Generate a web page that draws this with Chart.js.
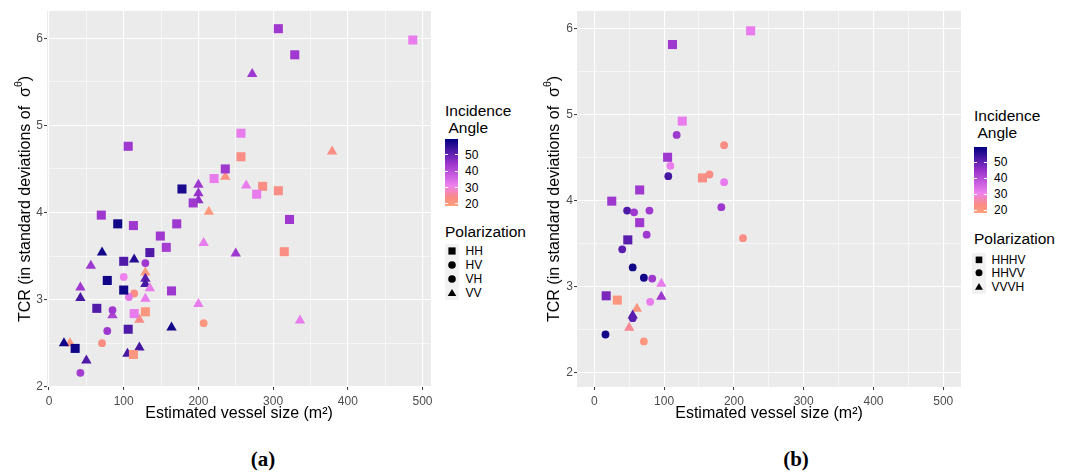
<!DOCTYPE html>
<html><head><meta charset="utf-8">
<script src="https://cdn.jsdelivr.net/npm/chart.js@4.4.1/dist/chart.umd.min.js"></script>
<style>
html,body{margin:0;padding:0;background:#fff;}
body{width:1069px;height:472px;overflow:hidden;position:relative;font-family:"Liberation Sans",Arial,sans-serif;color:#000;}
canvas{position:absolute;top:0;}
.ytitle{position:absolute;white-space:nowrap;font-size:16px;transform:translate(-50%,-50%) rotate(-90deg);}
.ytitle sup{font-size:10.5px;vertical-align:8px;line-height:0;}
.ltitle{position:absolute;font-size:15.5px;line-height:17px;white-space:pre;}
.lab{position:absolute;font-size:12px;line-height:14px;transform:translateY(-50%);white-space:nowrap;}
.bar{position:absolute;}
.tk{position:absolute;height:1px;background:#fff;}
.key{position:absolute;background:#F2F2F2;}
.key svg{position:absolute;left:0;top:0;}
.plabel{position:absolute;font-family:"Liberation Serif","DejaVu Serif",serif;font-weight:bold;font-size:21px;transform:translate(-50%,-50%);}
</style>
</head><body>
<canvas id="ca" width="440" height="430" style="left:0px"></canvas>
<canvas id="cb" width="440" height="430" style="left:530px"></canvas>
<div id="overlay"></div>
<script>
// ---------- tick values ----------
const X_TICKS = [0,50,100,150,200,250,300,350,400,450,500];
const Y_TICKS = [2,2.5,3,3.5,4,4.5,5,5.5,6];
const LEGEND_ANGLE_TICKS = [20,30,40,50];
const ANGLE_LIMITS = [18.6, 59.6];

// ---------- colour scale (incidence angle) ----------
const ANGLE_STOPS  = [18.6, 24, 31, 45, 59.6];
const ANGLE_COLORS = ['#FFA07A','#F98A86','#EE82EE','#9932CC','#000080'];

// ---------- panel (a) ----------
const aHH_x = [307,329,487,257,106,257,236,221,178,193,286,278,307,322,70,92,113,171,149,157,315,135,100,78,100,164,64,114,129,106,35,113];
const aHH_y = [6.11,5.81,5.98,4.91,4.76,4.64,4.50,4.39,4.27,4.11,4.30,4.21,4.25,3.92,3.97,3.87,3.85,3.87,3.73,3.60,3.55,3.54,3.44,3.22,3.11,3.10,2.90,2.84,2.86,2.66,2.44,2.37];
const aHH_a = [44,44,32,32,44,23,44,32,57,44,23,32,23,44,44,58,44,44,44,43,23,52,52,58,58,44,52,32,21,52,58,21];

const aHV_x = [129,100,114,107,85];
const aHV_y = [3.42,3.26,3.07,3.03,2.88];
const aHV_a = [44,31,23,33,44];

const aVH_x = [207,78,71,42];
const aVH_y = [2.73,2.64,2.50,2.16];
const aVH_a = [21,44,23,43];

const aVV_x = [272,379,236,200,200,200,264,214,207,250,71,114,56,129,129,129,42,135,42,129,200,85,121,336,164,28,20,121,105,50];
const aVV_y = [5.59,4.70,4.41,4.32,4.22,4.14,4.31,4.01,3.65,3.53,3.54,3.46,3.39,3.31,3.24,3.18,3.14,3.13,3.02,3.01,2.95,2.82,2.77,2.76,2.68,2.50,2.50,2.45,2.38,2.30];
const aVV_a = [44,23,22,44,45,46,32,20,32,44,58,56,44,20,51,53,44,32,53,32,32,42,24,32,58,20,58,53,53,52];

// ---------- panel (b) ----------
const bHHHV_x = [224,112,126,105,155,65,25,65,48,17,33];
const bHHHV_y = [5.97,5.81,4.92,4.50,4.26,4.12,3.99,3.74,3.54,2.89,2.84];
const bHHHV_a = [32,44,32,44,23,44,44,44,51,48,21];

const bHHVV_x = [118,186,109,106,165,186,182,47,57,79,75,40,213,55,71,83,80,55,16,71];
const bHHVV_y = [4.76,4.64,4.40,4.28,4.30,4.21,3.92,3.88,3.86,3.88,3.60,3.43,3.56,3.22,3.10,3.09,2.82,2.63,2.44,2.36];
const bHHVV_a = [44,23,32,53,23,32,44,52,44,44,44,51,23,58,58,44,32,51,58,21];

const bVVVH_x = [96,96,61,55,50];
const bVVVH_y = [3.03,2.88,2.74,2.66,2.52];
const bVVVH_a = [32,44,21,51,25];

// ---------- helpers ----------
function hex2rgb(h){return [parseInt(h.substr(1,2),16),parseInt(h.substr(3,2),16),parseInt(h.substr(5,2),16)];}
function angleColor(a){
  if (a <= ANGLE_STOPS[0]) return ANGLE_COLORS[0];
  for (let i=1;i<ANGLE_STOPS.length;i++){
    if (a <= ANGLE_STOPS[i]){
      const t=(a-ANGLE_STOPS[i-1])/(ANGLE_STOPS[i]-ANGLE_STOPS[i-1]);
      const c0=hex2rgb(ANGLE_COLORS[i-1]), c1=hex2rgb(ANGLE_COLORS[i]);
      const c=c0.map((v,k)=>Math.round(v+(c1[k]-v)*t));
      return 'rgb('+c.join(',')+')';
    }
  }
  return ANGLE_COLORS[ANGLE_COLORS.length-1];
}
const FAM = '"Liberation Sans", Arial, sans-serif';
const bgPlugin = {id:'bg', beforeDraw(chart){
  const {ctx, chartArea:a} = chart;
  ctx.save(); ctx.fillStyle='#EBEBEB';
  ctx.fillRect(a.left,a.top,a.right-a.left,a.bottom-a.top);
  ctx.restore();
}};
const isMajor = (v, step) => Math.abs(v/step - Math.round(v/step)) < 1e-6;

function makeChart(id, sets, xr, yr, L){
  return new Chart(document.getElementById(id), {
    type:'scatter',
    data:{datasets: sets.map(s => ({
      data: s.x.map((v,i)=>({x:v, y:s.y[i]})),
      pointStyle: s.style, pointRadius: s.r, pointHoverRadius: s.r,
      backgroundColor: s.a.map(angleColor), borderColor: s.a.map(angleColor),
      borderWidth: 0, pointBorderWidth: 0
    }))},
    options:{
      responsive:false, animation:false, events:[],
      layout:{padding:L.padding},
      plugins:{legend:{display:false}, tooltip:{enabled:false}},
      scales:{
        x:{type:'linear', min:xr[0], max:xr[1],
          afterBuildTicks:s=>{s.ticks = X_TICKS.map(v=>({value:v}));},
          afterFit:s=>{s.height = L.xh;},
          ticks:{autoSkip:false, maxRotation:0, padding:4, color:'#4D4D4D', font:{size:12, family:FAM},
            callback:v=>isMajor(v,100)?String(v):''},
          grid:{color:'#FFFFFF', lineWidth:c=>(c.tick && isMajor(c.tick.value,100))?1.1:0.55,
            tickColor:c=>(c.tick && isMajor(c.tick.value,100))?'#333333':'rgba(0,0,0,0)', tickLength:3, tickWidth:1},
          border:{display:false},
          title:{display:true, text:'Estimated vessel size (m²)', color:'#000', font:{size:16, family:FAM}, padding:0}
        },
        y:{type:'linear', min:yr[0], max:yr[1],
          afterBuildTicks:s=>{s.ticks = Y_TICKS.map(v=>({value:v}));},
          afterFit:s=>{s.width = L.yw;},
          ticks:{autoSkip:false, padding:1, color:'#4D4D4D', font:{size:12, family:FAM},
            callback:v=>isMajor(v,1)?String(v):''},
          grid:{color:'#FFFFFF', lineWidth:c=>(c.tick && isMajor(c.tick.value,1))?1.1:0.55,
            tickColor:c=>(c.tick && isMajor(c.tick.value,1))?'#333333':'rgba(0,0,0,0)', tickLength:3, tickWidth:1},
          border:{display:false},
          title:{display:false}
        }
      }
    },
    plugins:[bgPlugin]
  });
}

const SQ = 6.4, CI = 3.9, TR = 6.0;
makeChart('ca', [
  {x:aHH_x, y:aHH_y, a:aHH_a, style:'rect', r:SQ},
  {x:aHV_x, y:aHV_y, a:aHV_a, style:'circle', r:CI},
  {x:aVH_x, y:aVH_y, a:aVH_a, style:'circle', r:CI},
  {x:aVV_x, y:aVV_y, a:aVV_a, style:'triangle', r:TR}
], [-2.7, 511.4], [1.997, 6.313], {padding:{left:0, top:11, right:9, bottom:7}, xh:36, yw:47});

makeChart('cb', [
  {x:bHHHV_x, y:bHHHV_y, a:bHHHV_a, style:'rect', r:SQ},
  {x:bHHVV_x, y:bHHVV_y, a:bHHVV_a, style:'circle', r:CI},
  {x:bVVVH_x, y:bVVVH_y, a:bVVVH_a, style:'triangle', r:TR}
], [-24.8, 525.4], [1.83, 6.2], {padding:{left:0, top:11, right:9, bottom:7}, xh:36, yw:47});

// ---------- HTML overlays: y titles, legends, panel labels ----------
const ov = document.getElementById('overlay');
function add(html){ ov.insertAdjacentHTML('beforeend', html); }
const YT = 'TCR (in standard deviations of&nbsp;&nbsp;σ<sup>θ</sup>)';
add(`<div class="ytitle" style="left:24.5px;top:199px">${YT}</div>`);
add(`<div class="ytitle" style="left:553.5px;top:199px">${YT}</div>`);
add(`<div class="plabel" style="left:263px;top:459px">(a)</div>`);
add(`<div class="plabel" style="left:796px;top:459px">(b)</div>`);

function gradientCSS(lo, hi){
  const stops = ANGLE_STOPS.map((s,i)=>{
    const p = Math.max(0, Math.min(100, (s-lo)/(hi-lo)*100));
    return ANGLE_COLORS[i]+' '+p.toFixed(1)+'%';
  });
  return 'linear-gradient(to top,'+stops.join(',')+')';
}
function shapeSVG(kind, cx, cy, s){
  if (kind==='rect') return `<rect x="${cx-s/2}" y="${cy-s/2}" width="${s}" height="${s}" fill="#000"/>`;
  if (kind==='circle') return `<circle cx="${cx}" cy="${cy}" r="${s/2+0.2}" fill="#000"/>`;
  const h = s*0.95;
  return `<polygon points="${cx},${cy-h*0.6} ${cx+s*0.6},${cy+h*0.45} ${cx-s*0.6},${cy+h*0.45}" fill="#000"/>`;
}
function legend(L){
  const [lo,hi] = ANGLE_LIMITS;
  add(`<div class="ltitle" style="left:${L.x}px;top:${L.ty}px">Incidence\n Angle</div>`);
  add(`<div class="bar" style="left:${L.bx}px;top:${L.bt}px;width:${L.bw}px;height:${L.bb-L.bt}px;background:${gradientCSS(lo,hi)}"></div>`);
  LEGEND_ANGLE_TICKS.forEach(v=>{
    const y = L.bb - (v-lo)/(hi-lo)*(L.bb-L.bt);
    add(`<div class="tk" style="left:${L.bx}px;top:${(y-0.5).toFixed(1)}px;width:2.6px"></div>`);
    add(`<div class="tk" style="left:${(L.bx+L.bw-2.6).toFixed(1)}px;top:${(y-0.5).toFixed(1)}px;width:2.6px"></div>`);
    add(`<div class="lab" style="left:${L.bx+L.bw+7}px;top:${y.toFixed(1)}px">${v}</div>`);
  });
  add(`<div class="ltitle" style="left:${L.x}px;top:${L.py-8.5}px">Polarization</div>`);
  L.keys.forEach((k,i)=>{
    const y = L.ky0 + i*L.kstep;
    const w = L.kw, h = L.kstep;
    add(`<div class="key" style="left:${L.kx}px;top:${(y-h/2).toFixed(1)}px;width:${w}px;height:${h}px"><svg width="${w}" height="${h}">${shapeSVG(k[1], w/2, h/2, L.ks)}</svg></div>`);
    add(`<div class="lab" style="left:${L.lx}px;top:${y}px">${k[0]}</div>`);
  });
}
legend({x:445, ty:101.5, bx:445, bt:139.3, bb:206, bw:13, py:231.7, ky0:251, kstep:14, kx:445, kw:14, ks:7.2, lx:465.5,
  keys:[['HH','rect'],['HV','circle'],['VH','circle'],['VV','triangle']]});
legend({x:974, ty:106.5, bx:974, bt:146.7, bb:212.7, bw:13, py:238.3, ky0:259.5, kstep:13.7, kx:972, kw:14, ks:6.6, lx:991.5,
  keys:[['HHHV','rect'],['HHVV','circle'],['VVVH','triangle']]});
</script>
</body></html>
